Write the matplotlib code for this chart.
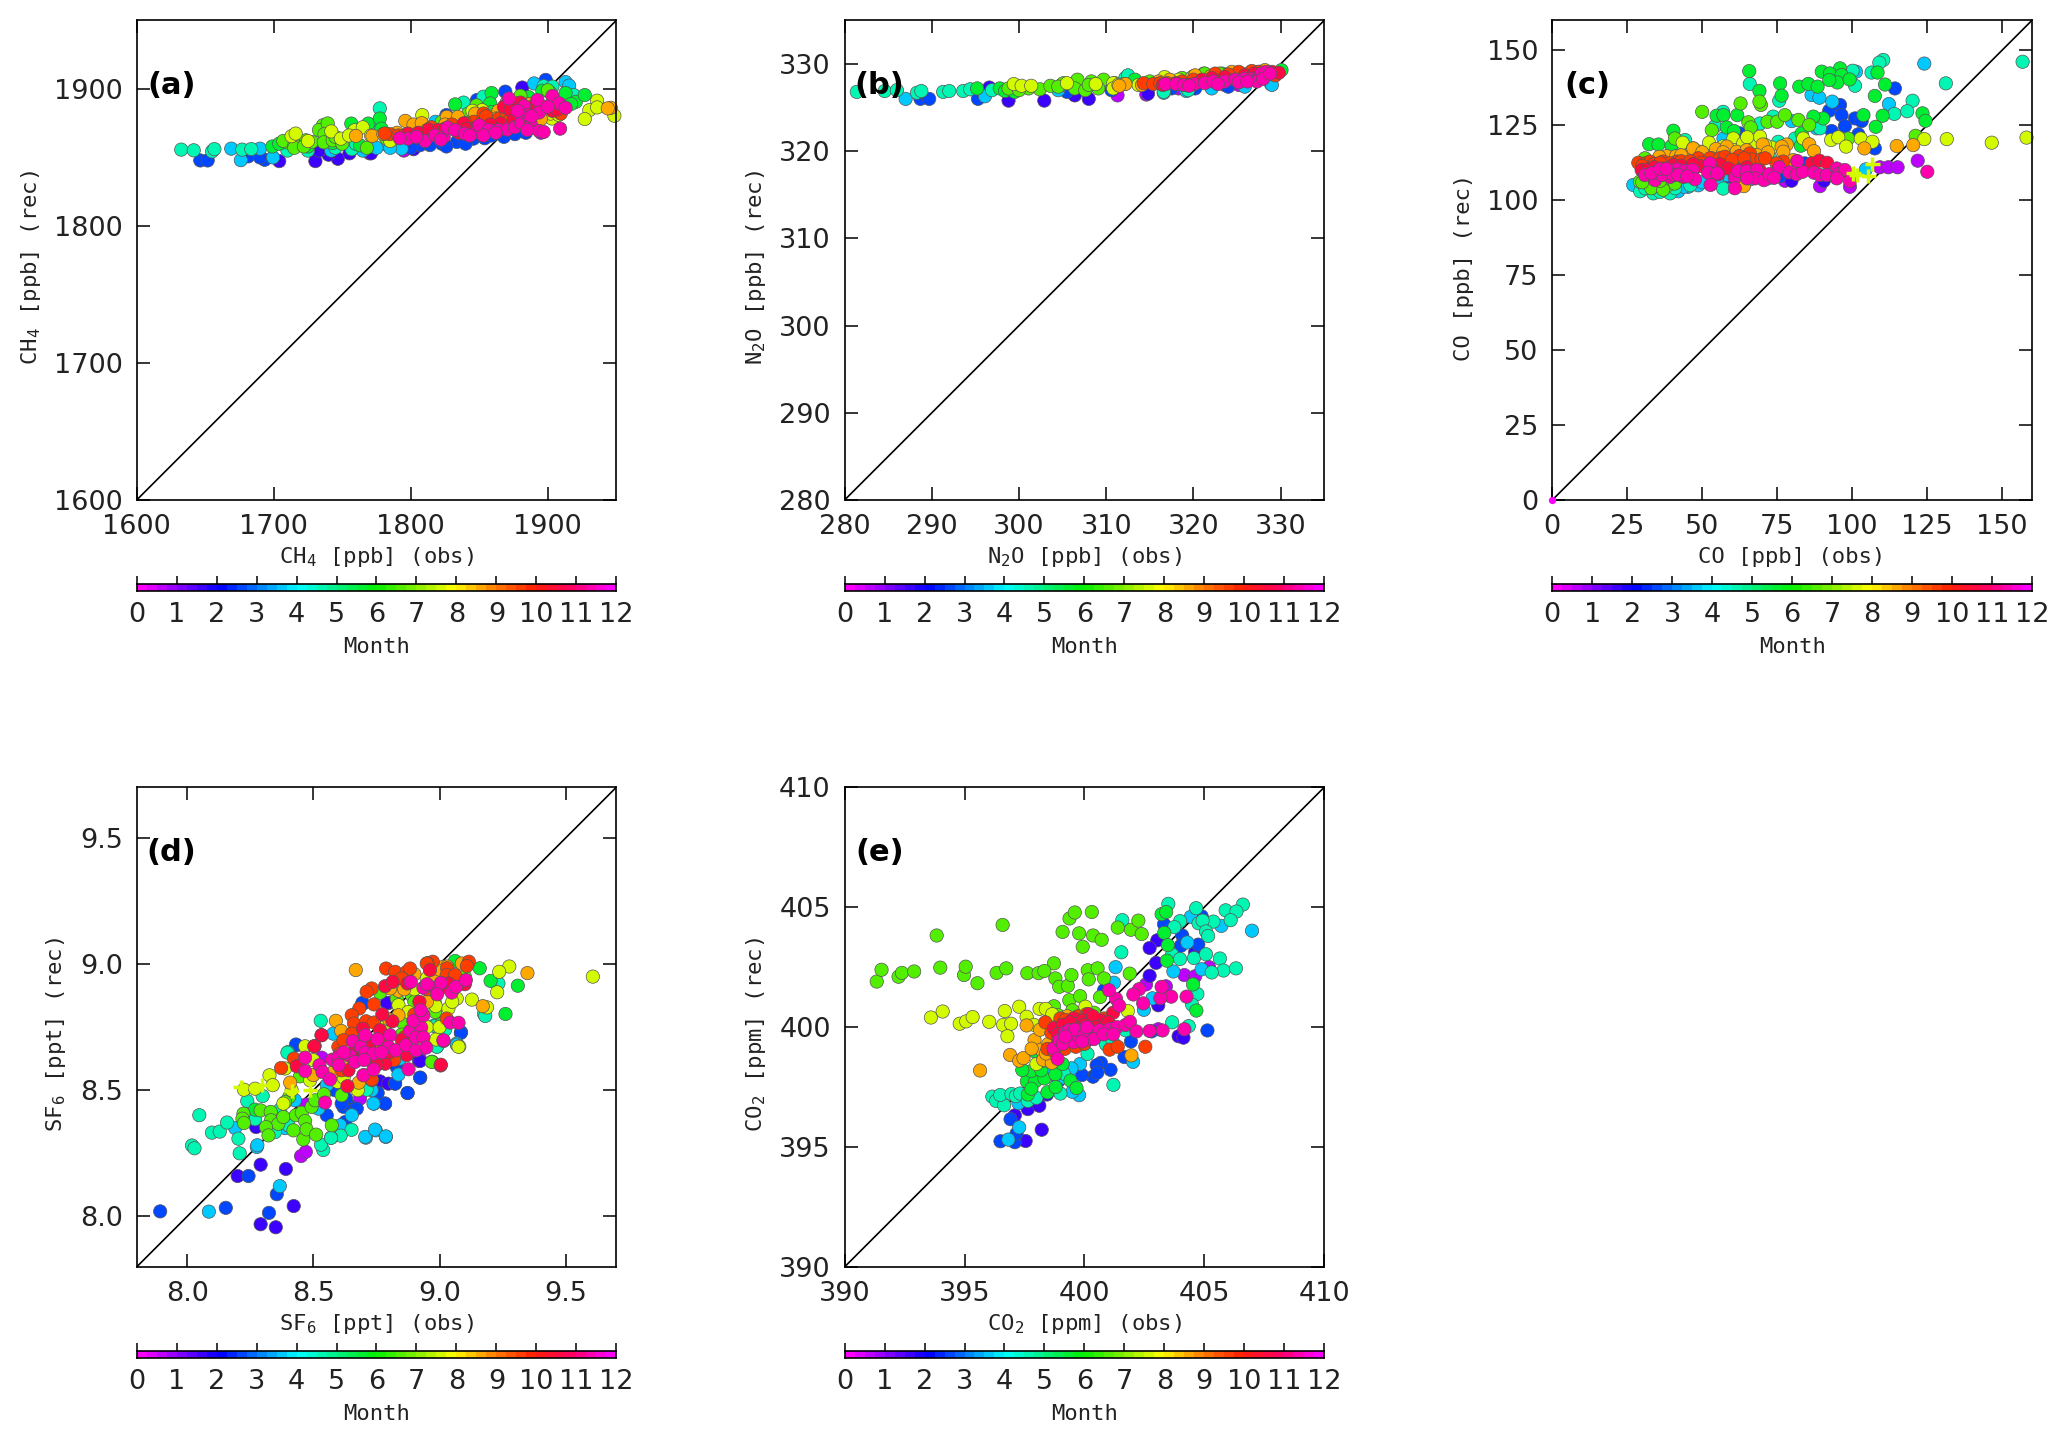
import numpy as np
import matplotlib
matplotlib.use("Agg")
import matplotlib.pyplot as plt
from matplotlib.colors import LinearSegmentedColormap

plt.rcParams["font.family"] = "DejaVu Sans"
plt.rcParams["mathtext.default"] = "regular"

W, H = 2067, 1441

# month value drawn for each class of points
month_mid = [0.5, 1.5, 2.5, 3.5, 4.5, 5.5, 6.5, 7.5, 8.5, 9.5, 10.5, 11.25]
month_colors = ["#ff00ff", "#8000ff", "#0000ff", "#0080ff", "#00ffff", "#00f080", "#00f000",
                "#80f000", "#ffff00", "#ff8000", "#ff2000", "#ff0060", "#ff00ff"]
month_ticks = list(range(13))

# (obs, rec), one row per month class
ch4_points = [
    [(1770,1853),(1795,1855),(1845,1866),(1895,1868)],
    [(1704,1847.3),(1730.4,1847.3),(1746.8,1849),(1740,1852),(1755.3,1853),(1733,1855),(1771,1853),(1802,1856),(1884,1868.6),(1881.4,1901)],
    [(1646.4,1847.8),(1651.8,1847.8),(1693.4,1848.3),(1681.4,1850.8),(1690,1850),(1806.7,1858.9),(1814,1859),(1822.6,1860),(1833.6,1861.3),(1845.7,1863.7),(1854,1864),(1848.3,1891.9),(1869,1898),(1898.5,1906.6),(1826,1880.9),(1859,1866),(1884,1868),(1800,1857),(1826,1858),(1840,1860),(1868,1865),(1876,1867)],
    [(1669,1856.4),(1690,1856.4),(1676,1848),(1699.5,1850),(1742,1855),(1757,1857),(1793.3,1856.4),(1783,1859),(1818,1876),(1890,1904),(1913,1905),(1915.6,1902.4),(1765,1855),(1775,1857),(1785,1857)],
    [(1632.5,1855.7),(1641.6,1855.2),(1655,1854.4),(1656.7,1856.1),(1677,1855.7),(1683.6,1856.1),(1710,1855),(1725,1855),(1745,1857),(1757,1856),(1777.4,1885.8),(1775,1874),(1760,1860),(1853,1894.3),(1838.5,1890),(1897,1902),(1903.4,1901.7),(1919,1895.5)],
    [(1699,1858),(1704,1860),(1720,1859),(1725,1858),(1743,1860.5),(1756.6,1874.7),(1769,1874.7),(1777.4,1878.4),(1778.6,1871),(1763,1858.8),(1832.4,1888.7),(1859,1897),(1858,1889.4),(1859,1883),(1886,1894),(1896,1898.7),(1902,1897),(1920.5,1890.6),(1927,1895.5),(1913,1897),(1917,1889)],
    [(1710,1861),(1707,1862),(1723.5,1862.5),(1728,1861.3),(1715,1859),(1736,1873.5),(1733,1870),(1739.4,1874.8),(1737,1867),(1736.5,1861),(1743,1862.5),(1842,1882),(1822.6,1876),(1900,1899),(1715,1857),(1722,1858),(1745,1865),(1750,1860),(1768,1857),(1782,1864),(1848,1888),(1838,1875),(1870,1890),(1880,1895)],
    [(1713,1865.5),(1716,1867.4),(1742,1869),(1749,1863.7),(1759,1869.8),(1765,1872),(1771,1866),(1808.4,1880.9),(1852,1884.5),(1903,1878.4),(1902,1882),(1936,1891.4),(1930.3,1884.5),(1936,1886.5),(1927,1878),(1948.6,1880.4),(1908,1881),(1725,1862),(1755,1866),(1785,1862),(1845,1884),(1855,1881),(1870,1885)],
    [(1760,1865.7),(1772,1865.7),(1780,1867),(1796,1876.7),(1802,1874),(1808,1875),(1826.3,1879.6),(1834.4,1879.6),(1864,1884),(1946,1886.2),(1943.8,1885.8),(1891,1877),(1887,1889),(1862,1878.4),(1847,1882),(1879,1886),(1790,1868),(1812,1870),(1825,1874),(1850,1876),(1870,1880),(1880,1880),(1895,1878)],
    [(1784.7,1867),(1781,1867.5),(1791,1866),(1846,1876),(1853.2,1882),(1864.2,1878.4),(1870,1882),(1877.7,1889.4),(1898.5,1887),(1909.5,1882),(1859,1872),(1879,1882),(1795,1866),(1815,1872),(1830,1874),(1840,1875),(1855,1880),(1872,1877),(1885,1882),(1895,1885)],
    [(1798,1867.4),(1805.5,1868),(1813,1870.3),(1820,1870),(1838.6,1874.8),(1841,1871),(1852,1870),(1865.5,1874.8),(1868,1887),(1872.8,1884.5),(1888.7,1887),(1903.4,1884),(1907,1885),(1825,1871),(1835,1868),(1848,1872),(1858,1874),(1875,1877),(1880,1890)],
    [(1798,1863.7),(1792,1864),(1810.4,1862),(1804,1865),(1817.7,1866),(1824,1865),(1827,1871.8),(1832.4,1870),(1839.3,1867.4),(1848.3,1868.6),(1850,1873.5),(1857,1870),(1864,1870),(1870.3,1870.3),(1876,1872),(1880.6,1875.2),(1887.5,1874.8),(1893.6,1869.4),(1897,1868.6),(1909,1871),(1871.6,1893),(1882.6,1887.5),(1892.4,1891.9),(1885.5,1881),(1893.6,1882.8),(1903.4,1894.8),(1908.3,1889.4),(1913,1886.2),(1878,1884),(1822,1863),(1843,1866),(1853,1866),(1862,1868),(1885,1870),(1888,1880),(1900,1887)],
]

n2o_points = [
    [(311.3,326.4),(314.6,326.5),(318.3,327.2),(325.2,327.6),(323.6,327.6)],
    [(298.8,325.8),(302.9,325.8),(306.4,326.4),(308,326),(296.6,327.3),(314.8,326.6)],
    [(288.7,326),(289.7,326),(295.3,326),(305.5,326.8),(310.6,327),(317.5,327.2),(320.2,327.2),(324,327.4),(328.9,327.7)],
    [(287,326),(296.1,326.3),(304.5,327),(304.9,327.6),(316.6,326.7),(319.2,326.9),(322.1,327.2),(325.9,327.4),(329,327.6)],
    [(281.4,326.8),(284.6,326.9),(286,327),(288.3,326.7),(288.8,326.9),(291.3,326.8),(292,326.9),(293.6,326.9),(294.4,327.1),(296.9,327),(312.2,328.4),(312.5,328.7),(313.7,327.8),(316.6,326.8),(319.4,327)],
    [(295.2,327.2),(297.8,327.2),(298.4,326.9),(299.5,326.8),(321.2,328.9),(330.1,329.3),(318.3,327.7),(323.3,328.9),(313.3,328.2),(328.2,329.1)],
    [(298.8,327.2),(301.1,327.2),(302.4,327.1),(303.6,327.5),(305.1,327.8),(306.7,328.2),(306.4,327.2),(307.6,327),(308.3,328),(309.7,328.2),(309.1,327.2),(308,327.6),(311,327.8),(318.7,328.4),(321.3,328.9),(325.2,328.7),(327.5,329.1),(300,327),(304.5,327.4),(312,327.7),(315,328),(317,328.2),(320,328.6),(323,328.9)],
    [(299.4,327.7),(300.3,327.5),(301.4,327.5),(305.5,327.8),(308.8,327.7),(310.8,327.8),(310.8,327.2),(311.4,327.6),(313.7,327.6),(318.3,328.2),(316.7,328.5)],
    [(312.2,327.7),(314.1,327.6),(317.3,328.2),(319.8,328.4),(324.4,329.1),(325.5,328.9),(328.2,329.3),(320.2,328.7),(311.5,327.5),(316,328),(322,328.6),(326.5,329)],
    [(314.3,327.8),(315.4,327.7),(316.2,327.8),(322.5,328.9),(325.2,329.1),(326.7,329.2),(328.6,328.9),(318.7,328),(329.4,328.7),(317,327.8),(320,328.2),(324,328.8),(327.5,329.1)],
    [(319.4,327.6),(322.1,328.4),(323.6,328.5),(329,329.1),(329.8,329),(325.9,328.7),(316.5,327.6),(318,327.8),(321,328.2),(327,328.9),(328.5,329)],
    [(316.8,327.7),(318,327.7),(318.9,327.6),(320.1,327.7),(321.3,327.8),(322.3,328),(323.6,328),(324.8,328.2),(325.9,328.3),(326.7,328.3),(327.5,328.5),(327.8,328.9),(328.3,329.1),(327.3,328),(319.5,327.5),(322.8,327.7),(325.2,327.9),(326.2,328),(328,328.3),(328.8,328.9)],
]

co_points = [
    [(77.6,106.5),(89.3,104.7),(99.3,104.5),(109.3,111),(112.1,111),(115.2,111),(121.9,113.2)],
    [(79.8,106.5),(90.6,106.5)],
    [(114.3,137.3),(96,131.8),(92.4,129.9),(96.5,128.4),(101,127.3),(103.2,126.4),(97.6,124.7),(93.2,123.1),(102.1,122),(107.6,117.3),(62.6,122.3),(74.3,107.8),(84.3,112.3),(59.3,107.8),(55,107),(62,107),(70,107.5),(76,108)],
    [(124.1,145.6),(101.3,142.9),(86.5,135.1),(89.1,134.2),(93.4,132.9),(112.3,132.1),(57.1,120.6),(79.9,126.4),(88.2,124),(27,105.1),(45.4,104.5),(48.7,105),(58.2,108.4),(104.6,110.3),(72,107.3),(30,103.5),(42,103),(34,103.5),(38,103.5),(44,104.5),(50,106),(55,106.5),(66,107)],
    [(156.9,146.2),(110.4,146.8),(109.1,145.9),(106.5,142.6),(100.2,143.2),(101,138.2),(131.3,139),(65.9,138.8),(75.7,133.2),(120.2,133.2),(114.1,128.8),(118.4,129.7),(57,129.5),(69.3,125.6),(81,120.6),(89.3,124),(54.3,124.7),(73.7,127.9),(57,103.9),(29.3,103),(33.7,102.3),(39.3,102.3),(72.6,114.5),(75.4,119.5),(44.3,120.1),(31,104),(36,102.8),(41,104),(46,105)],
    [(65.7,143.1),(89.9,142.9),(96,144),(92.6,142.3),(96.5,141.8),(95.1,139.3),(92.4,140.1),(99.2,140.3),(108.5,142.6),(111,138.6),(107.6,134.8),(110.2,128.2),(123.5,129),(124.5,126.5),(107.9,124.5),(76,139),(69.1,136.5),(76.5,134.9),(82.4,137.9),(85.4,138.8),(88.5,137.9),(103.8,128.4),(54.8,128.2),(57.1,128.4),(61.7,128.4),(58.2,124.3),(60.6,123.1),(40.4,123.2),(32.3,118.7),(35.4,118.6),(39.8,118.1),(83.2,122.3),(82.9,118.2),(90.4,127.3),(87.1,127.9)],
    [(50,129.5),(62.8,132.3),(69.6,131.8),(69.1,132.9),(65.4,126),(66.2,124.3),(53.2,123.4),(71.8,126.2),(75,126.2),(77.6,128.4),(82.1,126.8),(85.7,125.1),(40.9,120.6),(30.9,114),(29.2,106.2),(32.6,105.1),(35.9,104.5),(38.7,105.1),(40.9,105.6),(98.7,120.6),(121.2,121.5),(33.7,111.2),(31,108),(33,104),(37,103.5),(30,106),(36,106.5)],
    [(43.5,119.2),(52.3,119.2),(60.4,120.6),(93,120.1),(95.4,121),(98,117.9),(102.9,120.6),(106.8,119.5),(124.1,120.4),(131.6,120.4),(146.6,119.2),(158.2,120.9),(67,119.2),(69.3,121.2),(73.2,117.6),(83.7,120.6),(49.3,116.2),(60.9,116.7),(63.7,119),(47,117.3),(57,118),(65,121),(71,118.5)],
    [(54.6,117.1),(58.2,117.9),(45.4,115.1),(47,117.3),(38.2,114.7),(41.3,114.7),(35.7,114.5),(53.2,114),(70.2,118.6),(78.2,118.6),(76.5,117.9),(77.1,116.2),(85.7,118.7),(87.3,116.4),(104.1,117.3),(114.9,118.1),(120.4,118.4),(63.9,104.7),(80.4,113.4),(61.5,116.2),(64.8,116.7),(68.2,115.1),(43,115),(50,116),(57,116),(72,116)],
    [(28.7,112.5),(31,112.3),(32.6,112.9),(37,112.9),(41.5,112.9),(48.7,114),(52.6,114),(55.9,114),(57.6,114.5),(62.4,114.7),(65.9,115.6),(66.5,113.6),(69.8,113.7),(77,112.9),(74.8,112.3),(44.8,112.3),(39.3,112.3),(30,111.5),(34,112),(36,112.5),(43,113),(46,113),(50,112.5),(60,113.5),(64,114),(71,114)],
    [(29.8,110.1),(32,110.3),(40.4,111.7),(45.4,110.6),(49.3,111.4),(55.9,112),(58.7,110.6),(62.6,110.1),(55.4,108.7),(69.3,109.8),(86.5,112.3),(89.1,113.2),(91.7,112.5),(34,111),(37,110.5),(43,111.5),(47,112),(52,111.5),(53,110.5),(65,111)],
    [(30.9,108.4),(34.3,106.7),(34.8,109.5),(37.6,109),(39.3,107.8),(36.5,108.4),(41.5,110.3),(44.3,109.8),(46.8,110.1),(47.6,107),(43.7,107.8),(40.4,108.4),(52.6,112.3),(52,109.2),(52.8,105.1),(60.9,107.6),(60.9,104),(62,109.8),(64.8,109.7),(68.2,110.1),(67.6,107.3),(70.6,106.7),(72.4,108.7),(75.7,111),(79.1,109.3),(81.5,108.7),(83.5,109.5),(81.7,113.1),(87.3,109.2),(89.3,108.4),(91.5,108.4),(94.9,110.6),(95.4,108.7),(97.6,110.1),(99.3,106.4),(125.1,109.5),(94.9,107.3),(33,109),(36,110.5),(38,110.5),(42,108.5),(45,108),(55,109),(65,107.3),(74,107.5)],
]
co_plus = [(101.5,108.4),(105.4,108.1),(106.8,112.1),(100.4,109)]
co_origin = [(0, 0)]

sf6_points = [
    [(8.451,8.239),(8.47,8.256),(8.471,8.443),(8.533,8.629),(8.685,8.467),(8.92,8.63)],
    [(8.291,7.969),(8.351,7.957),(8.422,8.041),(8.391,8.188),(8.291,8.205),(8.2,8.16),(8.797,8.845),(8.918,8.616),(8.791,8.846),(8.273,8.354),(8.764,8.535),(8.797,8.526),(8.923,8.616)],
    [(7.893,8.02),(8.153,8.034),(8.324,8.014),(8.355,8.088),(8.243,8.16),(9.085,8.73),(8.923,8.549),(8.873,8.489),(8.823,8.527),(8.784,8.447),(8.74,8.447),(8.754,8.489),(8.434,8.678),(8.696,8.842),(8.754,8.489),(8.784,8.447),(8.83,8.592),(8.923,8.55),(8.873,8.489),(8.553,8.401),(8.619,8.434),(8.65,8.434),(8.672,8.427),(8.63,8.467),(8.612,8.447),(8.431,8.681),(8.694,8.846),(8.586,8.5),(8.824,8.526),(8.626,8.374),(9.084,8.727)],
    [(8.086,8.019),(8.367,8.12),(8.276,8.275),(8.708,8.312),(8.747,8.341),(8.787,8.315),(8.19,8.35),(8.388,8.35),(8.328,8.334),(8.427,8.46),(8.52,8.427),(8.652,8.401),(8.738,8.447),(8.606,8.361),(8.837,8.562),(8.731,8.5),(8.705,8.315),(8.744,8.344),(8.787,8.317),(8.553,8.52),(8.843,8.625),(9.068,8.685),(8.579,8.724),(8.278,8.282),(9.068,8.68)],
    [(8.019,8.281),(8.029,8.27),(8.048,8.401),(8.098,8.332),(8.129,8.336),(8.158,8.372),(8.208,8.25),(8.539,8.263),(8.53,8.284),(8.651,8.343),(8.608,8.32),(8.57,8.312),(9.233,8.923),(9.176,8.802),(9.181,8.794),(8.99,8.673),(8.978,8.756),(8.529,8.775),(8.4,8.651),(8.238,8.457),(8.299,8.477),(8.269,8.385),(8.368,8.423),(8.203,8.308),(8.401,8.361),(8.348,8.334),(8.57,8.311),(8.397,8.649),(8.982,8.754),(9.022,8.74),(8.989,8.672),(8.711,8.502)],
    [(9.31,8.914),(9.202,8.933),(9.159,8.983),(9.261,8.802),(9.061,9.012),(8.97,8.613),(8.269,8.423),(8.784,8.757),(9.009,8.764),(8.85,8.804),(8.976,8.883)],
    [(8.404,8.473),(8.388,8.453),(8.223,8.407),(8.219,8.387),(8.225,8.37),(8.291,8.42),(8.331,8.414),(8.332,8.381),(8.361,8.367),(8.381,8.394),(8.312,8.354),(8.322,8.321),(8.421,8.341),(8.431,8.401),(8.454,8.411),(8.467,8.378),(8.46,8.305),(8.473,8.345),(8.511,8.324),(8.573,8.361),(8.612,8.48),(8.493,8.434),(8.507,8.46),(8.542,8.484),(8.447,8.555),(8.969,8.612),(8.764,8.886),(8.89,8.876),(8.857,8.764),(8.982,8.81),(8.83,8.863),(8.9,8.85),(8.85,8.72),(9.05,8.92),(8.72,8.7),(8.98,8.85),(9.1,8.95)],
    [(9.607,8.95),(9.276,8.99),(9.236,8.969),(9.228,8.888),(9.188,8.828),(9.128,8.859),(9.078,8.673),(8.326,8.559),(8.225,8.502),(8.269,8.506),(8.339,8.52),(8.467,8.674),(8.388,8.586),(8.5,8.619),(8.596,8.533),(8.676,8.5),(8.837,8.837),(8.876,8.81),(8.985,8.833),(9.035,8.824),(8.986,8.701),(9.075,8.672),(9.068,8.863),(8.414,8.5),(8.949,8.943),(8.487,8.539),(8.381,8.447),(8.7,8.56),(8.9,8.9),(8.95,8.75),(9.0,8.75),(9.05,8.85),(8.78,8.75),(8.62,8.55)],
    [(9.348,8.964),(9.171,8.833),(8.668,8.976),(8.589,8.775),(8.61,8.735),(8.408,8.53),(8.837,8.894),(8.929,8.846),(9.015,8.989),(9.03,8.99),(8.962,8.982),(9.088,9.002),(8.837,8.797),(8.804,8.903),(8.579,8.572),(8.62,8.59),(8.791,8.632),(8.989,8.976),(8.86,8.9),(8.9,8.96),(8.95,8.85),(8.98,8.93),(9.05,8.9),(8.8,8.78),(8.75,8.66),(8.62,8.62),(8.68,8.53),(8.5,8.56)],
    [(8.732,8.54),(9.03,8.983),(8.973,9.009),(8.952,9.003),(9.116,9.009),(8.731,8.903),(8.711,8.89),(8.74,8.84),(8.682,8.824),(8.652,8.797),(8.661,8.764),(8.709,8.773),(8.74,8.768),(8.652,8.724),(8.599,8.672),(8.619,8.698),(8.423,8.625),(8.372,8.588),(8.612,8.579),(8.731,8.543),(8.788,8.982),(8.824,8.969),(8.87,8.969),(8.883,8.982),(8.949,9.002),(9.028,8.956),(9.061,8.956),(8.863,8.711),(9.028,8.784),(9.108,8.992),(8.85,8.943),(8.606,8.645),(8.68,8.68),(8.72,8.62),(8.76,8.7),(8.82,8.62),(8.9,8.8),(8.95,8.9)],
    [(9.004,8.598),(8.505,8.675),(8.532,8.718),(8.533,8.718),(8.503,8.674),(8.434,8.595),(8.696,8.744),(8.764,8.738),(8.813,8.773),(8.773,8.801),(8.784,8.912),(8.814,8.929),(8.873,8.923),(8.685,8.691),(8.725,8.658),(8.639,8.579),(8.784,8.605),(8.635,8.516),(9.005,8.601),(8.962,8.976),(9.035,8.923),(8.87,8.639),(8.66,8.65),(8.72,8.68),(8.75,8.6),(8.8,8.65),(8.85,8.7),(8.92,8.85),(9.0,8.9),(9.1,8.92)],
    [(9.016,8.695),(8.467,8.629),(8.467,8.576),(8.524,8.599),(8.536,8.572),(8.566,8.543),(8.575,8.621),(8.599,8.632),(8.645,8.636),(8.656,8.694),(8.688,8.672),(8.705,8.718),(8.705,8.649),(8.738,8.645),(8.754,8.702),(8.804,8.718),(8.797,8.672),(8.826,8.658),(8.867,8.678),(8.907,8.658),(8.883,8.735),(8.927,8.748),(8.906,8.709),(8.936,8.709),(8.947,8.669),(8.896,8.775),(8.936,8.797),(8.925,8.817),(8.886,8.929),(8.936,8.906),(8.985,8.907),(9.005,8.925),(9.048,8.887),(9.065,8.91),(9.104,8.936),(9.042,8.768),(9.075,8.767),(9.015,8.698),(8.665,8.612),(8.698,8.559),(8.738,8.582),(8.546,8.451),(8.877,8.583),(8.6,8.6),(8.62,8.65),(8.7,8.62),(8.77,8.65),(8.95,8.92),(8.99,8.88)],
]
sf6_plus = [(8.212,8.513),(8.295,8.52),(8.414,8.497),(8.487,8.5)]

co2_points = [
    [(405.2,402.5),(404.17,402.17),(404.62,402.12),(402.57,401.78),(403.08,399.91),(400.27,399.73),(403.4,401.7)],
    [(403.04,403.62),(402.72,403.3),(402.99,402.68),(402.72,402.14),(403.08,400.91),(403.93,399.62),(404.13,399.56),(397.55,395.25),(398.22,395.72),(397.64,396.58),(398.12,396.72),(397.1,396.32),(398.44,397.19),(404.62,403.12)],
    [(404.89,404.62),(403.32,404.29),(404.08,403.82),(404.02,403.39),(404.75,403.44),(405.13,399.86),(402.8,399.82),(401.94,399.4),(401.67,398.75),(401.09,398.22),(400.69,398.51),(400.51,398.41),(400.36,397.93),(400.54,398.1),(396.5,395.24),(397.1,395.2),(397.17,395.56),(396.92,396.16),(400.82,401.54),(398.91,397.74),(399.9,398)],
    [(406.99,404.02),(405.71,404.22),(404.44,404.6),(404.29,403.53),(403.71,402.32),(404.89,402.41),(402.84,401.2),(402.48,400.72),(401.23,401.85),(401.3,402.5),(397.28,395.82),(397.25,396.83),(396.83,395.31),(399.78,397.16),(399.82,398.46),(402.03,398.55),(399.46,398.28),(398.5,398.1),(399.1,397.9),(399.5,397.3)],
    [(403.5,405.14),(404.66,404.96),(405.89,404.87),(406.61,405.11),(406.34,404.82),(406.1,404.46),(405.38,404.4),(404.76,404.33),(404.93,404.44),(403.99,404.42),(403.75,404.17),(405.07,403.99),(405.16,403.8),(401.58,404.46),(401.54,403.12),(403.66,403.03),(403.99,402.84),(404.57,402.88),(405.07,403.04),(405.65,402.86),(405.8,402.36),(405.31,402.28),(406.32,402.45),(404.71,401.38),(404.49,400.94),(403.66,400.2),(404.35,400.04),(401.21,397.59),(396.16,397.1),(396.32,396.92),(396.65,396.74),(396.49,397.17),(396.96,397.21),(397.14,397.12),(397.32,397.23),(397.64,396.92),(398,397.05),(399,397.23),(399.14,398.06),(400.13,398.88),(400.9,399.28),(401.72,399.87),(401.18,399.4)],
    [(403.22,404.71),(403.41,404.8),(403.33,403.93),(403.48,403.42),(403.44,402.77),(404.53,401.78),(404.67,400.69),(397.64,397.19),(397.6,397.74),(397.95,397.74),(397.79,397.43),(398.33,397.86),(398.46,397.28),(398.79,398.03),(399.42,397.77),(399.67,397.46),(397.79,398.17),(397.41,398.21),(399.09,398.46),(398.09,398.46),(397.9,399),(398.2,398.2),(398.8,397.5)],
    [(391.34,401.9),(391.54,402.39),(392.25,402.1),(392.39,402.26),(392.9,402.32),(393.84,403.82),(393.99,402.48),(394.98,402.17),(395.05,402.52),(395.54,401.83),(396.34,402.26),(396.74,402.45),(396.59,404.26),(398.73,402.66),(397.62,402.25),(398.09,402.25),(398.33,402.34),(398.79,402.03),(398.95,401.68),(399.31,401.72),(399.46,402.17),(399.37,401.12),(399.82,401.29),(400.14,402.37),(400.55,402.45),(400.82,402.03),(400.18,401.99),(400.65,401.25),(401.89,402.23),(398.73,400.87),(399.09,403.97),(399.78,403.91),(399.93,403.35),(400.36,403.82),(400.72,403.64),(399.38,404.53),(399.6,404.78),(400.31,404.8),(401.39,404.15),(401.94,404.06),(402.39,403.88),(402.25,404.44),(398.3,398.6),(398.9,400.5),(399.5,400.7),(400.4,400.6)],
    [(393.6,400.4),(394.09,400.65),(394.8,400.14),(395.07,400.24),(395.34,400.42),(396.03,400.22),(396.61,400.09),(396.94,400.14),(396.68,400.67),(396.79,399.62),(397.28,400.85),(397.59,400.43),(398.13,400.76),(398.39,400.76),(398.66,400.54),(400.04,400.85),(401.81,400.67),(398,398.46),(398.82,398.64),(397.9,400.09)],
    [(395.65,398.19),(396.9,398.84),(397.28,398.6),(397.46,398.71),(397.59,400.07),(397.92,399.46),(398.15,399.89),(398.19,399.06),(398.28,398.64),(398.64,398.51),(401.96,398.82),(398.8,399.5),(399.28,400.45),(400.18,400.45),(398.5,399.3),(398.9,400),(399.4,400.2),(397.8,399.1),(398.4,398.9)],
    [(398.37,400.2),(398.62,399.76),(398.46,399.09),(399.18,399.09),(399,400.36),(399.73,400.45),(399.64,399.18),(400.54,400.27),(400.82,400.36),(401.05,399.06),(401.39,399.18),(402.54,399.18),(400.09,400.54),(398.73,399),(398.9,399.4),(399.5,399.7),(400,399.3),(400.4,400),(399.2,400.3),(400.9,399.9)],
    [(398.73,399.96),(399.09,400.09),(400.18,400.54),(401.2,400.6),(400.72,400.27),(399.55,400.36),(399.91,400.27),(400.36,400.45),(399.1,399.5),(399.4,400.2),(400,400.1),(400.5,400),(401,400.2),(398.9,399.7)],
    [(398.71,399.11),(398.88,398.68),(398.95,399.46),(399.18,399.76),(399.37,399.87),(399.55,399.37),(399.73,399.66),(399.86,399.87),(400.18,399.49),(400.36,399.73),(400.63,399.87),(401.05,399.91),(401.36,400),(401.72,400.09),(401.9,400.22),(402.17,399.82),(402.72,399.84),(403.26,399.86),(404.17,399.91),(404.26,401.27),(403.62,401.27),(403.17,401.21),(403.22,401.68),(402.45,400.99),(402.28,401.58),(402.04,401.36),(401.32,401.18),(401.03,401.54),(401.45,400.9),(399.1,399.3),(399.6,399.9),(400,399.7),(400.1,400),(400.4,399.5),(400.8,399.7),(401.2,399.7),(399.2,399.6),(399.9,399.4)],
]

ch4_ticks = [1600, 1700, 1800, 1900]
n2o_ticks = [280, 290, 300, 310, 320, 330]
co_ticks = [0, 25, 50, 75, 100, 125, 150]
sf6_ticks = [8.0, 8.5, 9.0, 9.5]
co2_ticks = [390, 395, 400, 405, 410]

cmap = LinearSegmentedColormap.from_list("month", month_colors, N=48)
ink = "#222222"
mono = "DejaVu Sans Mono"
ylabel_off = {"a": 106, "b": 89, "c": 88, "d": 81, "e": 89}


def rect(left, top, right, bottom):
    return [left / W, 1 - bottom / H, (right - left) / W, (bottom - top) / H]


def put(x, y, s, **kw):
    fig.text(x / W, 1 - y / H, s, ha="center", va="center", **kw)


def panel(left, top, points, lims, ticks, fmt, name, unit, tag, plus=None, origin=None):
    right, bottom = left + 479.6, top + 479.6
    ax = fig.add_axes(rect(left, top, right, bottom))
    ax.plot(lims, lims, color="black", lw=1.2, zorder=1)
    for m, pts in zip(month_mid, points):
        xy = np.array(pts)
        ax.scatter(xy[:, 0], xy[:, 1], c=[m] * len(xy), cmap=cmap, vmin=0, vmax=12, s=92,
                   edgecolors="#555555", linewidths=0.5, zorder=2, clip_on=False)
    if plus is not None:
        xy = np.array(plus)
        ax.scatter(xy[:, 0], xy[:, 1], c=[7.5] * len(xy), cmap=cmap, vmin=0, vmax=12, s=110,
                   marker="+", linewidths=2.5, zorder=3)
    if origin is not None:
        xy = np.array(origin)
        ax.scatter(xy[:, 0], xy[:, 1], color="#ff00ff", s=18, zorder=3, clip_on=False)
    ax.set_xlim(lims)
    ax.set_ylim(lims)
    ax.set_xticks(ticks)
    ax.set_yticks(ticks)
    ax.set_xticklabels([fmt % t for t in ticks])
    ax.set_yticklabels([fmt % t for t in ticks])
    ax.tick_params(direction="in", length=9.5, width=1.1, top=True, right=True, labelsize=19.5,
                   pad=10, labelcolor=ink)
    for s in ax.spines.values():
        s.set_linewidth(1.2)
    cx = (left + right) / 2
    put(cx, bottom + 57, name + " " + unit + " (obs)", fontsize=16, color=ink, family=mono)
    put(left - ylabel_off[tag], (top + bottom) / 2 + 7, name + " " + unit + " (rec)", fontsize=16,
        rotation=90, color=ink, family=mono)
    put(left + 35, top + 65, "(" + tag + ")", fontsize=22, fontweight="bold", zorder=5)

    # month colour bar below the panel
    cb = fig.add_axes(rect(left, bottom + 84, right, bottom + 91))
    edges = np.linspace(0, 12, 49)
    cb.pcolormesh(edges, [0, 1], ((edges[:-1] + edges[1:]) / 2).reshape(1, -1), cmap=cmap, vmin=0, vmax=12)
    cb.set_xlim(0, 12)
    cb.set_yticks([])
    cb.set_xticks(month_ticks)
    cb.tick_params(axis="x", direction="out", top=True, bottom=False, length=6, width=1.1,
                   labelsize=19.5, pad=2, labelcolor=ink)
    for s in cb.spines.values():
        s.set_linewidth(1.2)
    put(cx, bottom + 147, "Month", fontsize=16, color=ink, family=mono)


fig = plt.figure(figsize=(W / 100, H / 100), dpi=100)
panel(136.7, 20.4, ch4_points, (1600, 1950), ch4_ticks, "%d", "CH$_4$", "[ppb]", "a")
panel(844.6, 20.4, n2o_points, (280, 335), n2o_ticks, "%d", "N$_2$O", "[ppb]", "b")
panel(1552.3, 20.4, co_points, (0, 160), co_ticks, "%d", "CO", "[ppb]", "c", co_plus, co_origin)
panel(136.7, 787.3, sf6_points, (7.8, 9.7), sf6_ticks, "%.1f", "SF$_6$", "[ppt]", "d", sf6_plus)
panel(844.6, 787.3, co2_points, (390, 410), co2_ticks, "%d", "CO$_2$", "[ppm]", "e")

fig.savefig("out.png", dpi=100)
